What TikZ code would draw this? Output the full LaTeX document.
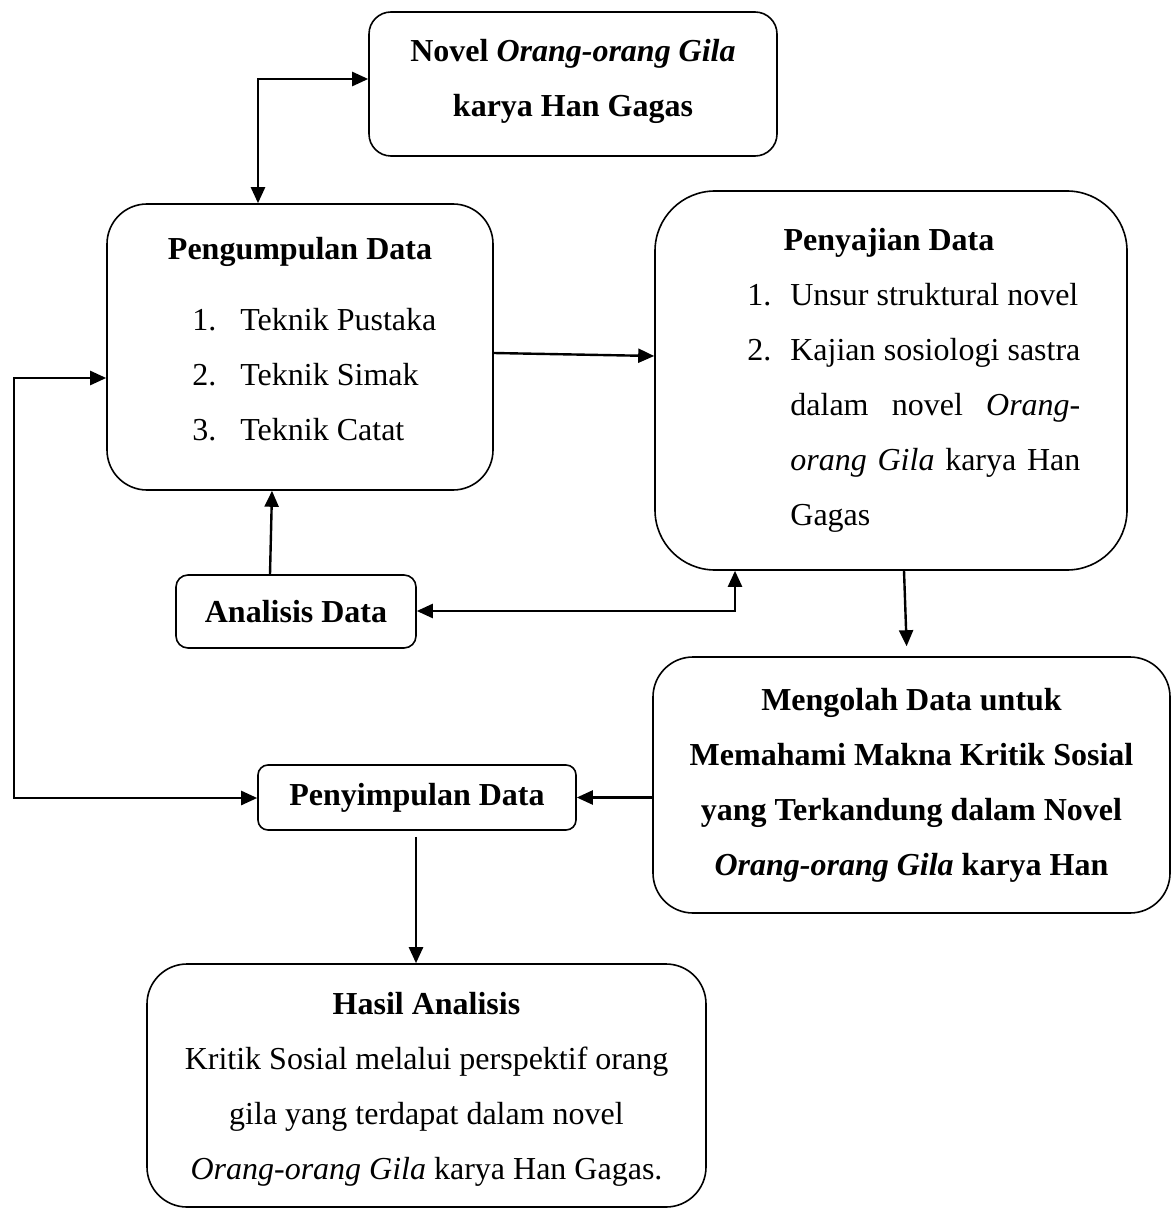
\documentclass[tikz,border=0pt]{standalone}
\usepackage{fontspec}
\setmainfont{Liberation Serif}
\usetikzlibrary{arrows.meta,fit,calc}
\begin{document}
\begin{tikzpicture}[x=0.5pt,y=-0.5pt,
  rbox/.style={draw, line width=0.8pt, inner sep=0pt, rounded corners=#1},
  txt/.style={inner sep=0pt, align=center, font=\fontsize{16pt}{27.5pt}\selectfont},
  arr/.style={line width=1.2pt, -{Triangle[length=8pt,width=7pt]}},
  darr/.style={line width=1.2pt, {Triangle[length=8pt,width=7pt]}-{Triangle[length=8pt,width=7pt]}}]

\fill[white] (0,0) rectangle (1172,1209);
\useasboundingbox (0,0) rectangle (1172,1209);

% boxes
\node[rbox=11pt, fit={(369,12) (777,156)}] (novel) {};
\node[rbox=20pt, fit={(107,204) (493,490)}] (peng) {};
\node[rbox=30pt, fit={(655,191) (1127,570)}] (peny) {};
\node[rbox=6pt, fit={(176,575) (416,648)}] (anal) {};
\node[rbox=20pt, fit={(653,657) (1170,913)}] (meng) {};
\node[rbox=5pt, fit={(258,765) (576,830)}] (penyim) {};
\node[rbox=20pt, fit={(147,964) (706,1207)}] (hasil) {};

% centred texts
\node[txt] (novelT) at ([yshift=1.5pt]novel.center)
  {\textbf{Novel \textit{Orang-orang Gila}}\\\textbf{karya Han Gagas}};
\node[txt] (analT) at (anal.center) {\textbf{Analisis Data}};
\node[txt] (mengT) at (meng.center)
  {\textbf{Mengolah Data untuk}\\\textbf{Memahami Makna Kritik Sosial}\\
   \textbf{yang Terkandung dalam Novel}\\\textbf{\textit{Orang-orang Gila} karya Han}};
\node[txt] (penyimT) at (penyim.center) {\textbf{Penyimpulan Data}};
\node[txt] (hasilT) at ([yshift=-2pt]hasil.center)
  {\textbf{Hasil Analisis}\\Kritik Sosial melalui perspektif orang\\
   gila yang terdapat dalam novel\\\textit{Orang-orang Gila} karya Han Gagas.};

% texts of Pengumpulan Data
\node[txt, anchor=base] (pengT) at (300,259) {\textbf{Pengumpulan Data}};
\node[txt, anchor=base west] (peng1) at (192,330) {\makebox[24pt][l]{1.}Teknik Pustaka};
\node[txt, anchor=base west] (peng2) at (192,385) {\makebox[24pt][l]{2.}Teknik Simak};
\node[txt, anchor=base west] (peng3) at (192,440) {\makebox[24pt][l]{3.}Teknik Catat};

% texts of Penyajian Data
\node[txt, anchor=base] (penyT) at (889,250) {\textbf{Penyajian Data}};
\node[txt, anchor=base west] (peny1) at (747,305) {\makebox[21.5pt][l]{1.}Unsur struktural novel};
\node[txt, anchor=base west] (peny2) at (747,360) {\makebox[21.5pt][l]{2.}\makebox[145pt][s]{Kajian sosiologi sastra}};
\node[txt, anchor=base west] (peny3) at (790,415) {\makebox[145pt][s]{dalam novel \textit{Orang-}}};
\node[txt, anchor=base west] (peny4) at (790,470) {\makebox[145pt][s]{\textit{orang Gila} karya Han}};
\node[txt, anchor=base west] (peny5) at (790,525) {Gagas};

% helper coordinates
\coordinate (pA) at (258,79);
\coordinate (pB) at (14,378);
\coordinate (pC) at (14,798);
\coordinate (pD) at (735,611);
\coordinate (pE) at (0,353);
\coordinate (pF) at (0,356);
\coordinate (pG) at (270,0);
\coordinate (pH) at (272,0);
\coordinate (pI) at (904,0);
\coordinate (pJ) at (907,0);
\coordinate (pK) at (416,0);

% connectors
\draw[darr] (peng.north -| pA) -- (pA) -- (novel.west |- pA);
\draw[arr] (peng.east |- pE) -- (peny.west |- pF);
\draw[darr] (peng.west |- pB) -- (pB) -- (pC) -- (penyim.west |- pC);
\draw[arr] (anal.north -| pG) -- (peng.south -| pH);
\draw[darr] (anal.east |- pD) -- (pD) -- (peny.south -| pD);
\draw[arr, shorten >=5pt] (peny.south -| pI) -- (meng.north -| pJ);
\draw[arr] (meng.west |- penyim.east) -- (penyim.east);
\draw[arr, shorten <=3pt] (penyim.south -| pK) -- (hasil.north -| pK);
\end{tikzpicture}
\end{document}
